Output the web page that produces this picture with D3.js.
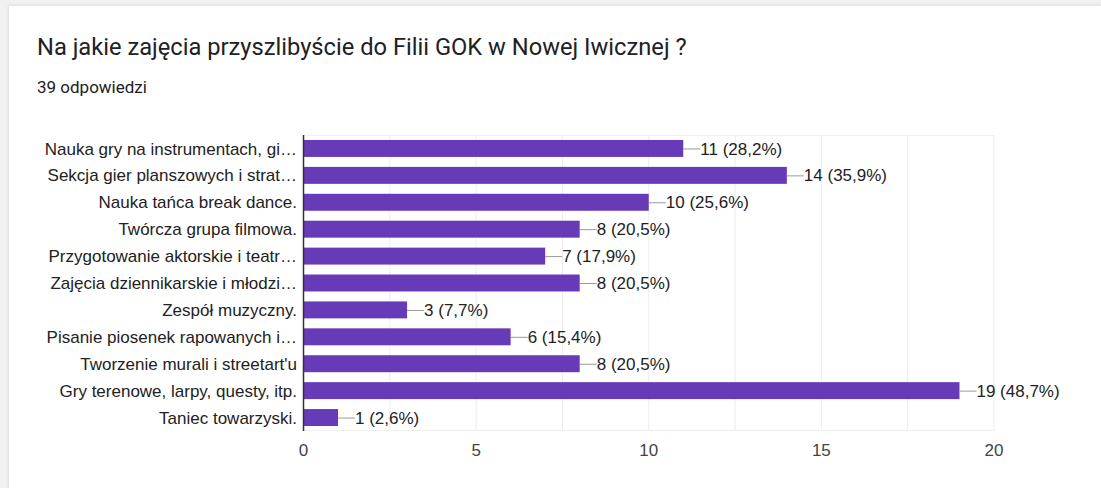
<!DOCTYPE html>
<html>
<head>
<meta charset="utf-8">
<script src="https://cdn.jsdelivr.net/npm/d3@7"></script>
<style>
  body { margin: 0; background: #f1f1f1; }
  #card { position: absolute; left: 9px; top: 6px; width: 1092px; height: 482px; background: #fff;
          box-shadow: 0 0 4px rgba(0,0,0,0.12); }
</style>
</head>
<body>
<div id="card"></div>
<script>
// question + answers
var title = "Na jakie zajęcia przyszlibyście do Filii GOK w Nowej Iwicznej ?";
var subtitle = "39 odpowiedzi";
var categories = [
  "Nauka gry na instrumentach, gi\u2026",
  "Sekcja gier planszowych i strat\u2026",
  "Nauka tańca break dance.",
  "Twórcza grupa filmowa.",
  "Przygotowanie aktorskie i teatr\u2026",
  "Zajęcia dziennikarskie i młodzi\u2026",
  "Zespół muzyczny.",
  "Pisanie piosenek rapowanych i\u2026",
  "Tworzenie murali i streetart'u",
  "Gry terenowe, larpy, questy, itp.",
  "Taniec towarzyski."
];
var counts = [11, 14, 10, 8, 7, 8, 3, 6, 8, 19, 1];
var percents = ["28,2%", "35,9%", "25,6%", "20,5%", "17,9%", "20,5%", "7,7%", "15,4%", "20,5%", "48,7%", "2,6%"];
var tickValues = [0, 5, 10, 15, 20];
var gridValues = [2.5, 5, 7.5, 10, 12.5, 15, 17.5, 20];

const W = 1101, H = 488;
const svg = d3.select("body").append("svg")
    .attr("width", W).attr("height", H)
    .style("position", "absolute").style("left", 0).style("top", 0);

// title
svg.append("text")
    .attr("x", 37).attr("y", 55)
    .style("font-family", "Roboto, sans-serif")
    .style("font-size", "23.7px")
    .style("fill", "#202124")
    .text(title);

svg.append("text")
    .attr("x", 37).attr("y", 93)
    .style("font-family", "Roboto, sans-serif")
    .style("font-size", "17px")
    .style("fill", "#202124")
    .text(subtitle);

var x = d3.scaleLinear().domain([0, 20]).range([303.5, 994]);
var y = d3.scaleBand().domain(categories).range([135, 431])
    .paddingInner(0.37).paddingOuter(0.185);

// grid
svg.append("g").selectAll("line")
    .data(gridValues).enter().append("line")
    .attr("x1", d => x(d)).attr("x2", d => x(d))
    .attr("y1", 135).attr("y2", 431)
    .style("stroke", "#ececec").style("stroke-width", 1);

svg.append("line")
    .attr("x1", x(0)).attr("x2", x(20))
    .attr("y1", 135.5).attr("y2", 135.5)
    .style("stroke", "#f0f0f0");
svg.append("line")
    .attr("x1", x(0)).attr("x2", x(20))
    .attr("y1", 430.5).attr("y2", 430.5)
    .style("stroke", "#f0f0f0");

// bars
svg.append("g").selectAll("rect")
    .data(counts).enter().append("rect")
    .attr("x", x(0))
    .attr("y", (d, i) => y(categories[i]))
    .attr("width", d => x(d) - x(0))
    .attr("height", y.bandwidth())
    .style("fill", "#673ab7");

// value labels with connector
var lab = svg.append("g").selectAll("g")
    .data(counts).enter().append("g")
    .attr("transform", (d, i) => "translate(" + x(d) + "," + (y(categories[i]) + y.bandwidth() / 2) + ")");

lab.append("line")
    .attr("x1", 0).attr("x2", 17)
    .attr("y1", 0.5).attr("y2", 0.5)
    .style("stroke", "#999").style("stroke-width", 1);

lab.append("text")
    .attr("x", 17).attr("dy", "0.36em")
    .style("font-family", "Arial, 'Liberation Sans', sans-serif")
    .style("font-size", "17px")
    .style("fill", "#222")
    .text((d, i) => d + " (" + percents[i] + ")");

// category labels
svg.append("g").selectAll("text")
    .data(categories).enter().append("text")
    .attr("x", 297)
    .attr("y", d => y(d) + y.bandwidth() / 2)
    .attr("dy", "0.36em")
    .attr("text-anchor", "end")
    .style("font-family", "Arial, 'Liberation Sans', sans-serif")
    .style("font-size", "17px")
    .style("fill", "#222")
    .text(d => d);

// axis line at zero
svg.append("line")
    .attr("x1", x(0)).attr("x2", x(0))
    .attr("y1", 135).attr("y2", 431)
    .style("stroke", "#333").style("stroke-width", 1.5);

// tick labels
svg.append("g").selectAll("text")
    .data(tickValues).enter().append("text")
    .attr("x", d => x(d))
    .attr("y", 456)
    .attr("text-anchor", "middle")
    .style("font-family", "Arial, 'Liberation Sans', sans-serif")
    .style("font-size", "17px")
    .style("fill", "#444")
    .text(d => d);
</script>
</body>
</html>
